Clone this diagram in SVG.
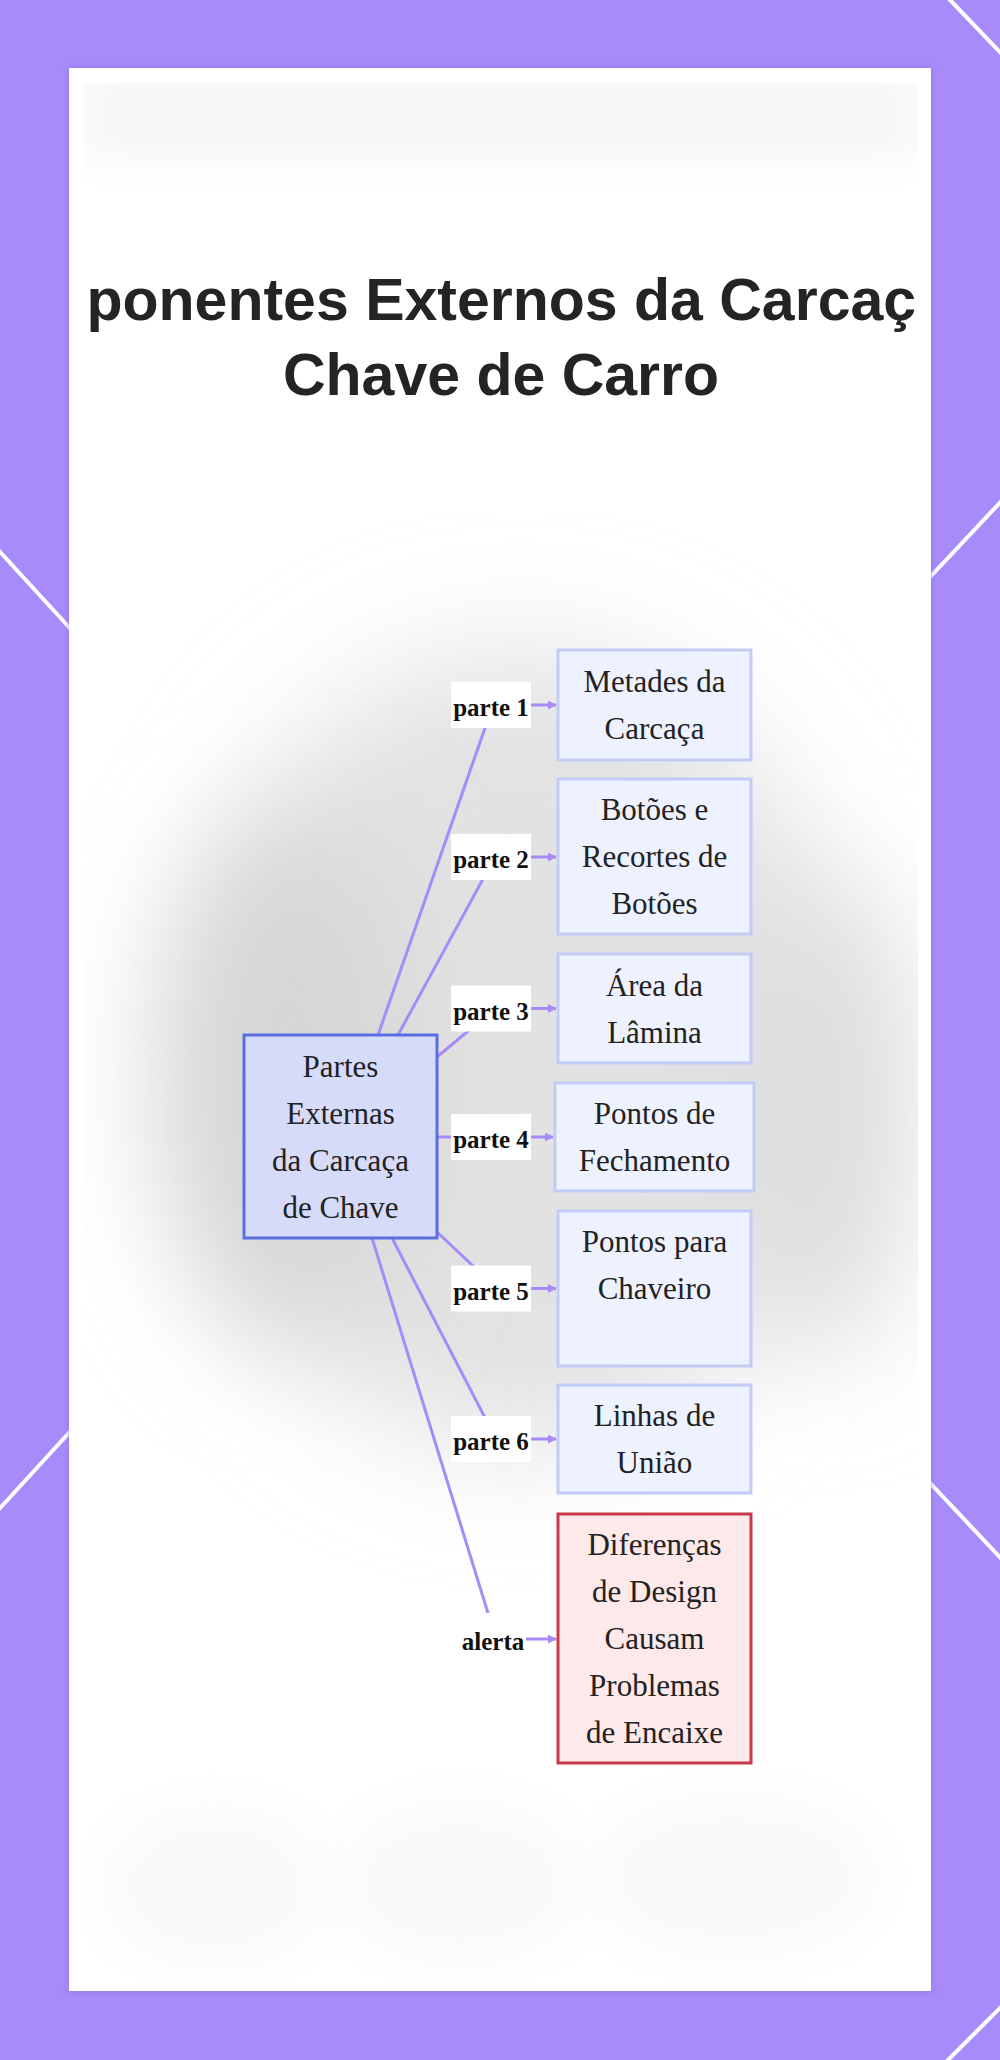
<svg xmlns="http://www.w3.org/2000/svg" width="1000" height="2060" viewBox="0 0 1000 2060">
<defs>
<style>
.deco{stroke:#ffffff;stroke-width:4;fill:none}
.edge{stroke:#a78bfa;stroke-width:3;fill:none}
.child rect{fill:#eef1fe;stroke:#c3cbf5;stroke-width:3}
.alert rect{fill:#fde8ea;stroke:#c8394b;stroke-width:3}
.main rect{fill:#d6dbfa;stroke:#5b6ee1;stroke-width:3}
.ntext{font-family:"Liberation Serif","Times New Roman",serif;font-size:31px;fill:#222222;text-anchor:middle}
.lbl rect{fill:#ffffff}
.lbl text{font-family:"Liberation Serif","Times New Roman",serif;font-size:25px;font-weight:bold;fill:#111111;text-anchor:middle}
.title{font-family:"Liberation Sans",Arial,sans-serif;font-size:59px;font-weight:bold;fill:#242424}
</style>
<marker id="arr" viewBox="0 0 10 10" refX="9" refY="5" markerWidth="3" markerHeight="3" orient="auto" markerUnits="strokeWidth">
<path d="M0,0 L10,5 L0,10 z" fill="#a78bfa"/>
</marker>
<filter id="blur60" x="-50%" y="-50%" width="200%" height="200%"><feGaussianBlur stdDeviation="60"/></filter>
<filter id="blur30" x="-50%" y="-50%" width="200%" height="200%"><feGaussianBlur stdDeviation="30"/></filter>
<filter id="blur20" x="-20%" y="-100%" width="140%" height="300%"><feGaussianBlur stdDeviation="20"/></filter>
<filter id="shadow" x="-5%" y="-5%" width="110%" height="110%"><feGaussianBlur stdDeviation="2"/></filter>
<clipPath id="inner"><rect x="83" y="83" width="835" height="1895"/></clipPath>
</defs>

<!-- frame -->
<rect x="0" y="0" width="1000" height="2060" fill="#a78bfa"/>
<g id="decor">
<line class="deco" x1="940.4" y1="-10" x2="1009.6" y2="62"/>
<line class="deco" x1="-10" y1="541" x2="100" y2="661"/>
<line class="deco" x1="1010" y1="492" x2="900" y2="609"/>
<line class="deco" x1="-10" y1="1519" x2="100" y2="1399"/>
<line class="deco" x1="900" y1="1451" x2="1010" y2="1568"/>
<line class="deco" x1="1010" y1="1998" x2="938" y2="2070"/>
</g>
<rect x="68" y="67" width="864" height="1926" fill="#8b6fe0" opacity="0.5" filter="url(#shadow)"/>
<rect x="69" y="68" width="862" height="1923" fill="#ffffff"/>

<!-- blurred background of inner image -->
<g id="background" clip-path="url(#inner)">
<rect x="83" y="70" width="835" height="90" fill="#f6f6f6" filter="url(#blur20)"/>
<ellipse cx="520" cy="1050" rx="330" ry="400" fill="#e2e2e2" filter="url(#blur60)"/>
<ellipse cx="290" cy="1080" rx="120" ry="260" fill="#d6d6d6" filter="url(#blur60)"/>
<ellipse cx="820" cy="1120" rx="90" ry="240" fill="#dddddd" filter="url(#blur60)"/>
<ellipse cx="215" cy="1887" rx="110" ry="75" fill="#f8f8f8" filter="url(#blur30)"/>
<ellipse cx="460" cy="1883" rx="120" ry="75" fill="#f8f8f8" filter="url(#blur30)"/>
<ellipse cx="735" cy="1877" rx="140" ry="75" fill="#f8f8f8" filter="url(#blur30)"/>
</g>

<!-- title -->
<g id="title" clip-path="url(#inner)">
<text class="title" x="86.5" y="320">ponentes Externos da Carcaç</text>
<text class="title" x="501" y="395" text-anchor="middle">Chave de Carro</text>
</g>

<!-- connectors -->
<g id="connectors">
<path class="edge" d="M378,1035 L493,705 L556,705" marker-end="url(#arr)"/>
<path class="edge" d="M398,1035 L495,857 L556,857" marker-end="url(#arr)"/>
<path class="edge" d="M437,1057 L495,1008.5 L556,1008.5" marker-end="url(#arr)"/>
<path class="edge" d="M437,1137 L553,1137" marker-end="url(#arr)"/>
<path class="edge" d="M437,1232 L497,1288.5 L556,1288.5" marker-end="url(#arr)"/>
<path class="edge" d="M392,1238 L496,1439 L556,1439" marker-end="url(#arr)"/>
<path class="edge" d="M372,1238 L496,1639 L556,1639" marker-end="url(#arr)"/>
</g>

<!-- edge labels -->
<g id="labels">
<g class="lbl" id="label1"><rect x="451" y="682" width="80" height="46"/><text x="491" y="716">parte 1</text></g>
<g class="lbl" id="label2"><rect x="451" y="834" width="80" height="46"/><text x="491" y="868">parte 2</text></g>
<g class="lbl" id="label3"><rect x="451" y="985.5" width="80" height="46"/><text x="491" y="1019.5">parte 3</text></g>
<g class="lbl" id="label4"><rect x="451" y="1114" width="80" height="46"/><text x="491" y="1148">parte 4</text></g>
<g class="lbl" id="label5"><rect x="451" y="1265.5" width="80" height="46"/><text x="491" y="1299.5">parte 5</text></g>
<g class="lbl" id="label6"><rect x="451" y="1416" width="80" height="46"/><text x="491" y="1450">parte 6</text></g>
<g class="lbl" id="label7"><rect x="460" y="1613" width="66" height="52"/><text x="493" y="1650">alerta</text></g>
</g>

<!-- nodes -->
<g id="node-main" class="main">
<rect x="244" y="1035" width="193" height="203"/>
<text class="ntext" x="340.5" y="1077">Partes</text>
<text class="ntext" x="340.5" y="1124">Externas</text>
<text class="ntext" x="340.5" y="1171">da Carcaça</text>
<text class="ntext" x="340.5" y="1218">de Chave</text>
</g>
<g id="node-metades" class="child">
<rect x="558" y="650" width="193" height="110"/>
<text class="ntext" x="654.5" y="692">Metades da</text>
<text class="ntext" x="654.5" y="739">Carcaça</text>
</g>
<g id="node-botoes" class="child">
<rect x="558" y="779" width="193" height="155"/>
<text class="ntext" x="654.5" y="820">Botões e</text>
<text class="ntext" x="654.5" y="867">Recortes de</text>
<text class="ntext" x="654.5" y="914">Botões</text>
</g>
<g id="node-lamina" class="child">
<rect x="558" y="954" width="193" height="109"/>
<text class="ntext" x="654.5" y="996">Área da</text>
<text class="ntext" x="654.5" y="1043">Lâmina</text>
</g>
<g id="node-fechamento" class="child">
<rect x="555" y="1083" width="199" height="108"/>
<text class="ntext" x="654.5" y="1124">Pontos de</text>
<text class="ntext" x="654.5" y="1171">Fechamento</text>
</g>
<g id="node-chaveiro" class="child">
<rect x="558" y="1211" width="193" height="155"/>
<text class="ntext" x="654.5" y="1252">Pontos para</text>
<text class="ntext" x="654.5" y="1299">Chaveiro</text>
</g>
<g id="node-uniao" class="child">
<rect x="558" y="1385" width="193" height="108"/>
<text class="ntext" x="654.5" y="1426">Linhas de</text>
<text class="ntext" x="654.5" y="1473">União</text>
</g>
<g id="node-alerta" class="alert">
<rect x="558" y="1514" width="193" height="249"/>
<text class="ntext" x="654.5" y="1555">Diferenças</text>
<text class="ntext" x="654.5" y="1602">de Design</text>
<text class="ntext" x="654.5" y="1649">Causam</text>
<text class="ntext" x="654.5" y="1696">Problemas</text>
<text class="ntext" x="654.5" y="1743">de Encaixe</text>
</g>
</svg>
